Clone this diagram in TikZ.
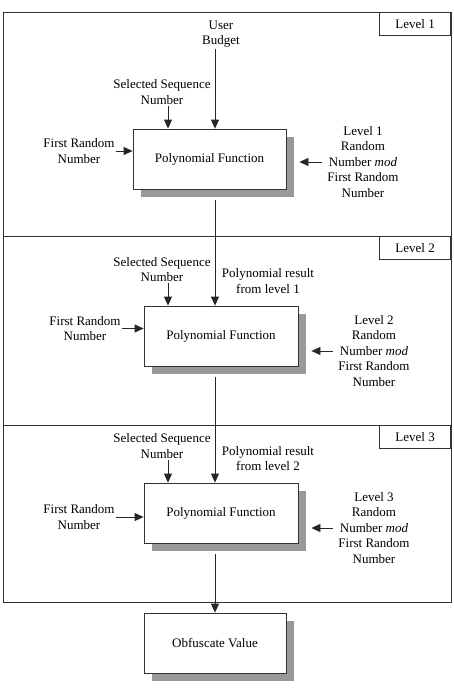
\documentclass[tikz,border=0pt]{standalone}
\usepackage{fontspec}
\setmainfont{Liberation Serif}
\usetikzlibrary{arrows.meta,shadows}
\begin{document}
\begin{tikzpicture}[x=1pt, y=-1pt, line width=0.8pt, draw=black!80,
  arr/.style={-{Triangle[length=9pt,width=8pt]}, black!85},
  fbox/.style={draw=black!80, fill=white, minimum height=60pt, inner sep=0pt,
    drop shadow={shadow xshift=8pt, shadow yshift=-8pt, fill=black!40, opacity=1}},
  lbl/.style={align=center, inner sep=1pt},
  lvl/.style={draw=black!80, minimum width=71pt, minimum height=23pt, anchor=north east, inner sep=0pt},
  font=\fontsize{13}{15.5}\selectfont]
  \useasboundingbox (0,0) rectangle (454,688);
  % level panels
  \draw[black!80] (3,12) rectangle (451,236);
  \draw[black!80] (3,236) rectangle (451,425);
  \draw[black!80] (3,425) rectangle (451,602);
  \node[lvl] (lv1) at (451,12) {Level 1};
  \node[lvl] (lv2) at (451,236) {Level 2};
  \node[lvl] (lv3) at (451,425) {Level 3};
  \coordinate (mainx) at (215,0);
  \coordinate (selx) at (168,0);
  % level 1
  \node[fbox, minimum width=153pt] (poly1) at (209.5,159) {Polynomial Function};
  \node[lbl] (budget) at (221,34) {User\\Budget};
  \node[lbl] (seq1) at (162,92) {Selected Sequence\\Number};
  \node[lbl] (frn1) at (79,151) {First Random\\Number};
  \node[lbl] (mod1) at (363,162) {Level 1\\Random\\Number \textit{mod}\\First Random\\Number};
  % level 2
  \node[fbox, minimum width=154pt] (poly2) at (221,336) {Polynomial Function};
  \node[lbl] (seq2) at (162,269.5) {Selected Sequence\\Number};
  \node[lbl] (res1) at (268,281) {Polynomial result\\from level 1};
  \node[lbl] (frn2) at (85,328.5) {First Random\\Number};
  \node[lbl] (mod2) at (374,351) {Level 2\\Random\\Number \textit{mod}\\First Random\\Number};
  % level 3
  \node[fbox, minimum width=154pt] (poly3) at (221,513) {Polynomial Function};
  \node[lbl] (seq3) at (162,446) {Selected Sequence\\Number};
  \node[lbl] (res2) at (268,458.5) {Polynomial result\\from level 2};
  \node[lbl] (frn3) at (79,517) {First Random\\Number};
  \node[lbl] (mod3) at (374,528) {Level 3\\Random\\Number \textit{mod}\\First Random\\Number};
  % result
  \node[fbox, minimum width=142pt] (obf) at (215,643) {Obfuscate Value};
  % arrows
  \draw[arr] (budget.south -| mainx) -- (poly1.north -| mainx);
  \draw[arr] ([yshift=-11pt]poly1.south -| mainx) -- (poly2.north -| mainx);
  \draw[arr] ([yshift=-11pt]poly2.south -| mainx) -- (poly3.north -| mainx);
  \draw[arr] ([yshift=-11pt]poly3.south -| mainx) -- (obf.north -| mainx);
  \foreach \i in {1,2,3} {
    \draw[arr] (seq\i.south -| selx) -- (poly\i.north -| selx);
    \draw[arr] (frn\i.east) -- (frn\i.east -| poly\i.west);
    \draw[arr] ([xshift=-4pt]mod\i.west) -- ([xshift=13pt]mod\i.west -| poly\i.east);
  }
\end{tikzpicture}
\end{document}
